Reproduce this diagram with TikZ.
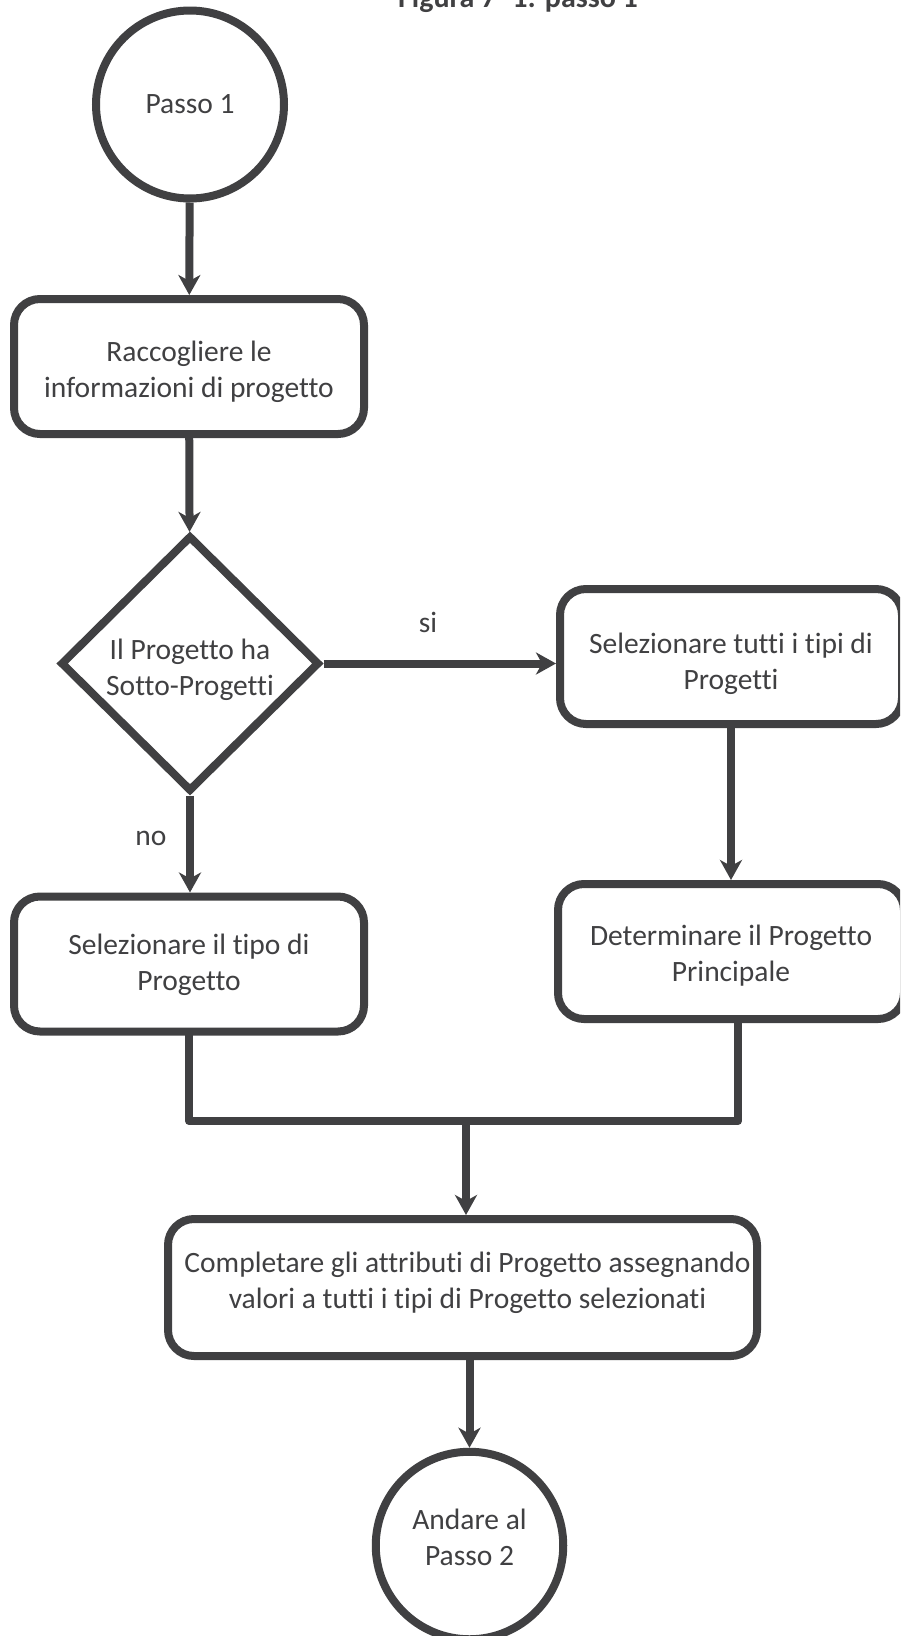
\documentclass[tikz,border=0pt]{standalone}
\usepackage{fontspec}
\setmainfont{Carlito}[Ligatures=NoCommon]
\usetikzlibrary{shapes.geometric,arrows.meta,calc}
\definecolor{ink}{RGB}{64,64,66}
\begin{document}
\begin{tikzpicture}[x=1pt,y=-1pt,
  every node/.style={text=ink,font=\fontsize{29.5}{36}\selectfont},
  outline/.style={draw=ink,line width=8pt,fill=white},
  stepbox/.style={outline,rectangle,rounded corners=26pt,
    minimum height=135pt,inner sep=0pt},
  terminal/.style={outline,circle,minimum size=188pt,inner sep=0pt},
  decision/.style={outline,diamond,minimum width=259pt,minimum height=256pt,
    inner sep=0pt},
  boxtext/.style={align=center,inner sep=0pt},
  link/.style={draw=ink,line width=8pt,
    -{Stealth[length=20pt,width=22pt,inset=6pt]}},
  joinline/.style={draw=ink,line width=8pt,line cap=round,line join=round},
  caption/.style={font=\fontsize{30}{36}\selectfont\bfseries,anchor=base}
]
\useasboundingbox (0,0) rectangle (900,1636);
\clip (0,0) rectangle (900,1636);

% title, partly above the page edge
\node[caption] (title) at (518,7) {Figura 7- 1: passo 1};

% shapes
\node[terminal] (start) at (190,104.5) {};
\node[stepbox,minimum width=350pt] (collect) at (189,366.5) {};
\node[decision] (sub) at (190,663.5) {};
\node[stepbox,minimum width=342pt] (alltypes) at (731,656.5) {};
\node[stepbox,minimum width=346pt] (main) at (731,951.5) {};
\node[stepbox,minimum width=350pt] (onetype) at (189,964) {};
\node[stepbox,minimum width=589pt,minimum height=137pt] (attrs) at (462.5,1287.5) {};
\node[terminal,minimum size=187.5pt] (next) at (469.5,1545.5) {};

% texts inside the shapes
\node[boxtext] (start-t) at ($(start)+(0,0)$) {Passo 1};
\node[boxtext] (collect-t) at ($(collect)+(0,5)$) {Raccogliere le\\informazioni di progetto};
\node[boxtext] (sub-t) at ($(sub)+(0,6)$) {Il Progetto ha\\Sotto-Progetti};
\node[boxtext] (alltypes-t) at ($(alltypes)+(0,7)$) {Selezionare tutti i tipi di\\Progetti};
\node[boxtext] (main-t) at ($(main)+(0,4)$) {Determinare il Progetto\\Principale};
\node[boxtext] (onetype-t) at ($(onetype)+(0,1)$) {Selezionare il tipo di\\Progetto};
\node[boxtext] (attrs-t) at ($(attrs)+(5,-5)$) {Completare gli attributi di Progetto assegnando\\valori a tutti i tipi di Progetto selezionati};
\node[boxtext] (next-t) at ($(next)+(0,-8)$) {Andare al\\Passo 2};

% branch labels
\node (yes) at (428,622) {si};
\node (no) at (151,838) {no};

% merge points
\coordinate (jl) at (189,1121);
\coordinate (jr) at (738,1121);
\coordinate (jm) at (466,1121);

% connectors
\draw[link] (start) -- (collect);
\draw[link] (collect) -- (sub);
\draw[link] (sub.east) -- (sub.east -| alltypes.west);
\draw[link] (alltypes) -- (main);
\draw[link] (sub.south) -- (sub.south |- onetype.north);
\draw[joinline] (onetype.south) -- (jl) -- (jr) -- (main.south -| jr);
\draw[link] (jm) -- (jm |- attrs.north);
\draw[link] (attrs.south -| next.north) -- (next.north);
\end{tikzpicture}
\end{document}
